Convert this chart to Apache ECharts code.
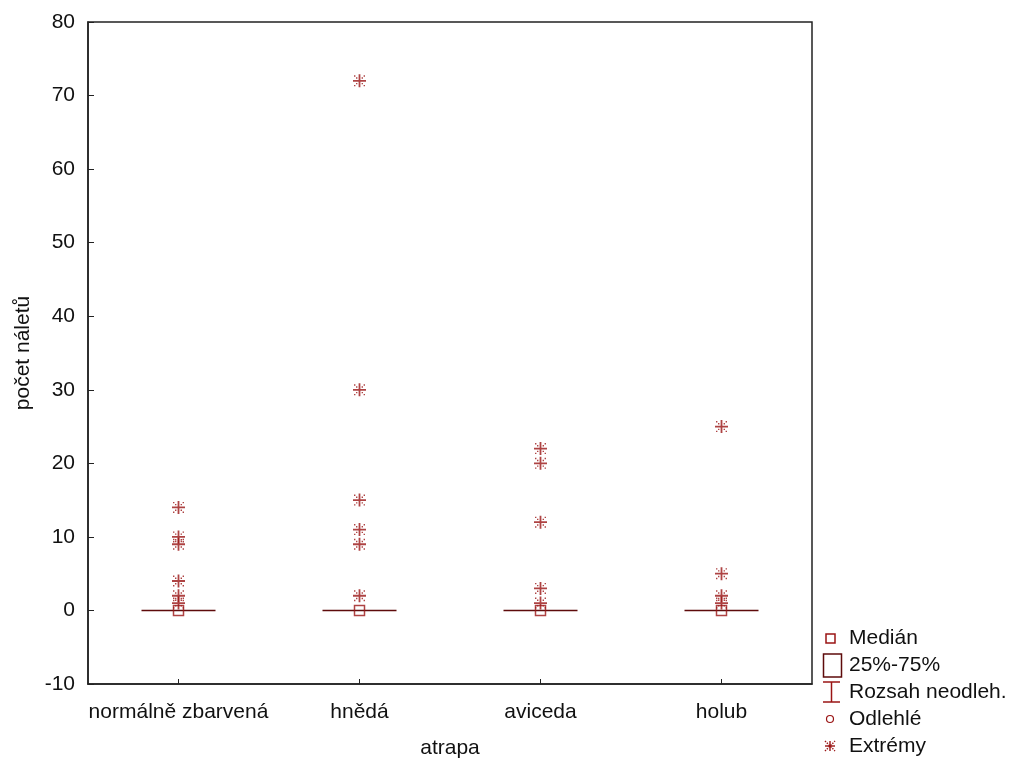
<!DOCTYPE html>
<html>
<head>
<meta charset="utf-8">
<script src="https://cdn.jsdelivr.net/npm/echarts@6/dist/echarts.min.js"></script>
<style>
  html, body { margin: 0; padding: 0; background: #fff; }
  #chart { width: 1009px; height: 758px; }
</style>
</head>
<body>
<div id="chart"></div>
<script>
// Categories (decoy types) and summary statistics
const categories = ['normálně zbarvená', 'hnědá', 'aviceda', 'holub'];
const medians = [0, 0, 0, 0];
const q1 = [0, 0, 0, 0];
const q3 = [0, 0, 0, 0];
const whiskerLow = [0, 0, 0, 0];
const whiskerHigh = [0, 0, 0, 0];
// Extreme values per category
const extremes = [
  [14, 10, 9, 4, 2, 1],
  [72, 30, 15, 11, 9, 2],
  [22, 20, 12, 3, 1],
  [25, 5, 2, 1]
];
const outliers = [[], [], [], []];
const yTicks = [-10, 0, 10, 20, 30, 40, 50, 60, 70, 80];

const RED = '#9a1414';
const DARK = '#5e0b0b';
const FONT = 'Liberation Sans';
const FS = 21;

// Asterisk marker: plus sign with dotted diagonals
const ASTERISK = 'path://M0,5.6H13V7.4H0Z M5.6,0H7.4V13H5.6Z ' +
  'M1,1H2.4V2.4H1Z M3,3H4.4V4.4H3Z M8.6,8.6H10V10H8.6Z M10.6,10.6H12V12H10.6Z ' +
  'M10.6,1H12V2.4H10.6Z M8.6,3H10V4.4H8.6Z M3,8.6H4.4V10H3Z M1,10.6H2.4V12H1Z';

const boxData = categories.map((c, i) => [whiskerLow[i], q1[i], medians[i], q3[i], whiskerHigh[i]]);
const extremeData = [];
extremes.forEach((arr, i) => arr.forEach(v => extremeData.push([i, v])));
const outlierData = [];
outliers.forEach((arr, i) => arr.forEach(v => outlierData.push([i, v])));
const medianData = medians.map((m, i) => [i, m]);

const chart = echarts.init(document.getElementById('chart'), null, { renderer: 'canvas' });

// Legend drawn as graphic elements at the lower right
const textX = 849;
const legendRows = [
  { name: 'Medián', y: 638 },
  { name: '25%-75%', y: 665 },
  { name: 'Rozsah neodleh.', y: 692 },
  { name: 'Odlehlé', y: 719 },
  { name: 'Extrémy', y: 746 }
];
// small asterisk icon for the legend, centred at (cx, cy)
function asteriskIcon(cx, cy, r) {
  const dash = { stroke: RED, lineWidth: 1.4, lineDash: [1.4, 1.2] };
  return [
    { type: 'line', shape: { x1: cx - r, y1: cy, x2: cx + r, y2: cy }, style: { stroke: RED, lineWidth: 1.4 } },
    { type: 'line', shape: { x1: cx, y1: cy - r, x2: cx, y2: cy + r }, style: { stroke: RED, lineWidth: 1.4 } },
    { type: 'line', shape: { x1: cx - r, y1: cy - r, x2: cx + r, y2: cy + r }, style: dash },
    { type: 'line', shape: { x1: cx - r, y1: cy + r, x2: cx + r, y2: cy - r }, style: dash }
  ];
}
const legendGraphics = [
  { type: 'rect', shape: { x: 826, y: 634, width: 9, height: 9 }, style: { fill: 'none', stroke: RED, lineWidth: 1.5 } },
  { type: 'rect', shape: { x: 823.5, y: 654, width: 18, height: 23 }, style: { fill: 'none', stroke: DARK, lineWidth: 1.5 } },
  { type: 'line', shape: { x1: 823, y1: 682, x2: 840, y2: 682 }, style: { stroke: RED, lineWidth: 1.5 } },
  { type: 'line', shape: { x1: 831.5, y1: 682, x2: 831.5, y2: 702 }, style: { stroke: RED, lineWidth: 1.5 } },
  { type: 'line', shape: { x1: 823, y1: 702, x2: 840, y2: 702 }, style: { stroke: RED, lineWidth: 1.5 } },
  { type: 'circle', shape: { cx: 830, cy: 719, r: 3.5 }, style: { fill: 'none', stroke: RED, lineWidth: 1.2 } }
].concat(asteriskIcon(830, 746, 5)).concat(legendRows.map(r => ({
  type: 'text', x: textX, y: r.y,
  style: { text: r.name, font: FS + 'px "' + FONT + '"', fill: '#111', verticalAlign: 'middle' }
})));

chart.setOption({
  animation: false,
  backgroundColor: '#fff',
  grid: {
    left: 88, right: 197, top: 22, bottom: 74,
    outerBoundsMode: 'none', containLabel: false,
    show: true, borderColor: '#222', borderWidth: 1.5, backgroundColor: 'transparent'
  },
  xAxis: {
    type: 'category',
    data: categories,
    name: 'atrapa',
    nameLocation: 'middle',
    nameGap: 54,
    nameTextStyle: { fontFamily: FONT, fontSize: FS, color: '#111' },
    axisLine: { onZero: false, lineStyle: { color: '#222', width: 1.5 } },
    axisTick: { show: true, inside: true, alignWithLabel: true, length: 5, lineStyle: { color: '#222' } },
    axisLabel: { interval: 0, fontFamily: FONT, fontSize: FS, color: '#111', margin: 18 },
    splitLine: { show: false }
  },
  yAxis: {
    type: 'value',
    min: yTicks[0],
    max: yTicks[yTicks.length - 1],
    interval: 10,
    name: 'počet náletů',
    nameLocation: 'middle',
    nameGap: 54,
    nameTextStyle: { fontFamily: FONT, fontSize: FS, color: '#111' },
    axisLine: { show: true, lineStyle: { color: '#222', width: 1.5 } },
    axisTick: { show: true, inside: true, length: 6, lineStyle: { color: '#222' } },
    axisLabel: { fontFamily: FONT, fontSize: FS, color: '#111', margin: 13 },
    splitLine: { show: false }
  },
  series: [
    {
      name: '25%-75%',
      type: 'boxplot',
      data: boxData,
      boxWidth: [74, 74],
      itemStyle: { color: 'transparent', borderColor: DARK, borderWidth: 1.5 },
      silent: true
    },
    {
      name: 'Medián',
      type: 'scatter',
      data: medianData,
      symbol: 'rect',
      symbolSize: 10,
      itemStyle: { color: 'transparent', borderColor: RED, borderWidth: 1.5 },
      z: 5
    },
    {
      name: 'Odlehlé',
      type: 'scatter',
      data: outlierData,
      symbol: 'circle',
      symbolSize: 7,
      itemStyle: { color: 'transparent', borderColor: RED, borderWidth: 1.2 }
    },
    {
      name: 'Extrémy',
      type: 'scatter',
      data: extremeData,
      symbol: ASTERISK,
      symbolSize: 13,
      itemStyle: { color: RED },
      z: 4
    }
  ],
  graphic: legendGraphics
});
</script>
</body>
</html>
